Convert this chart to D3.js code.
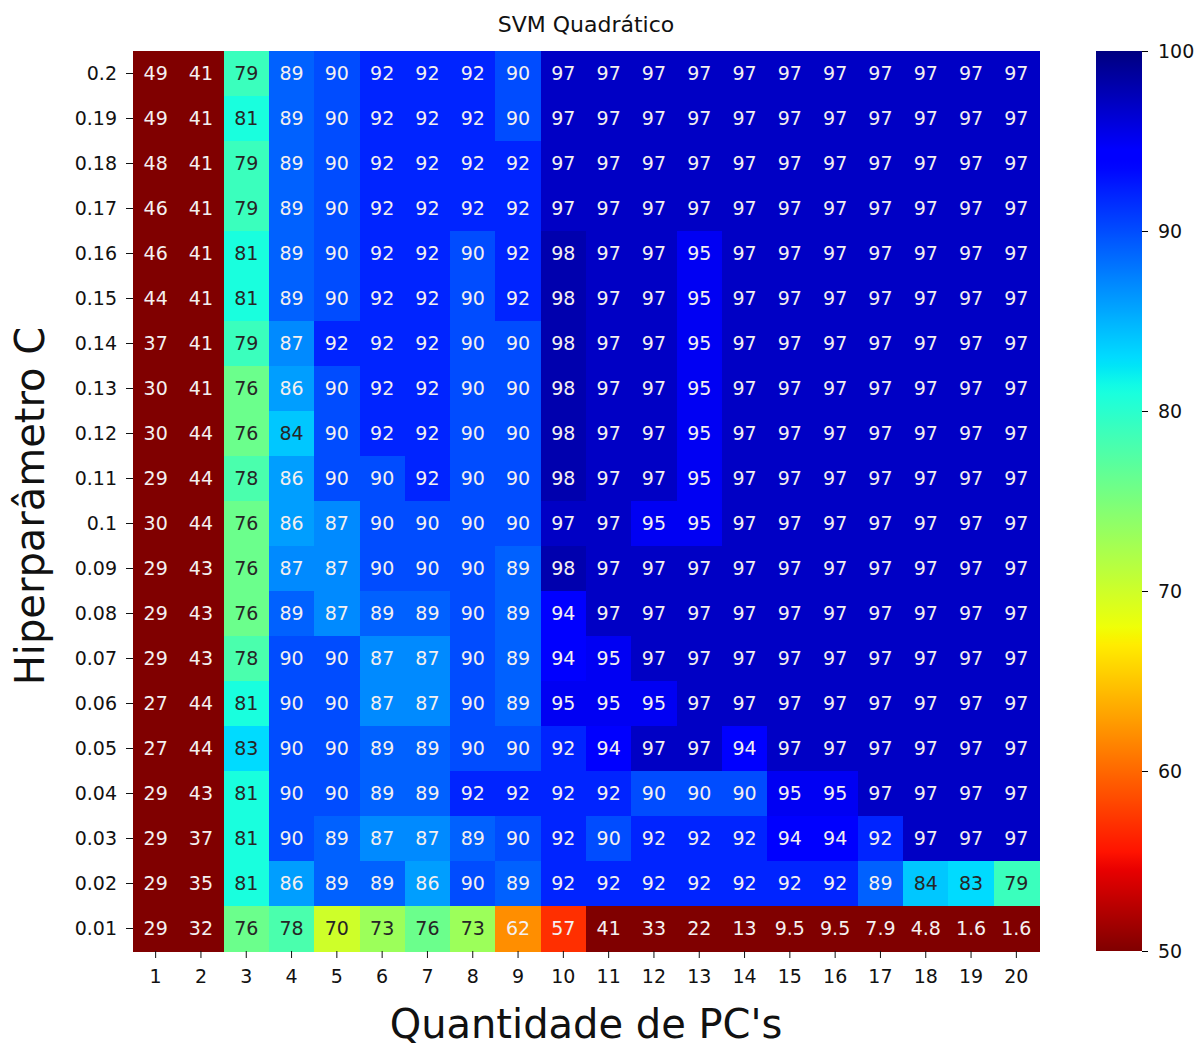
<!DOCTYPE html>
<html>
<head>
<meta charset="utf-8">
<script src="https://cdn.jsdelivr.net/npm/d3@7"></script>
<style>
  body { margin: 0; background: #fff; }
  text { font-family: "DejaVu Sans", sans-serif; }
</style>
</head>
<body>
<script>
const pcs = d3.range(1, 21).map(String)
const cValues = ["0.2", "0.19", "0.18", "0.17", "0.16", "0.15", "0.14", "0.13", "0.12", "0.11",
  "0.1", "0.09", "0.08", "0.07", "0.06", "0.05", "0.04", "0.03", "0.02", "0.01"]
const colorTicks = [50, 60, 70, 80, 90, 100]

// accuracy (%) per row of C, one value per number of PCs
const acc = [
  [49, 41, 79, 89, 90, 92, 92, 92, 90, 97, 97, 97, 97, 97, 97, 97, 97, 97, 97, 97],
  [49, 41, 81, 89, 90, 92, 92, 92, 90, 97, 97, 97, 97, 97, 97, 97, 97, 97, 97, 97],
  [48, 41, 79, 89, 90, 92, 92, 92, 92, 97, 97, 97, 97, 97, 97, 97, 97, 97, 97, 97],
  [46, 41, 79, 89, 90, 92, 92, 92, 92, 97, 97, 97, 97, 97, 97, 97, 97, 97, 97, 97],
  [46, 41, 81, 89, 90, 92, 92, 90, 92, 98, 97, 97, 95, 97, 97, 97, 97, 97, 97, 97],
  [44, 41, 81, 89, 90, 92, 92, 90, 92, 98, 97, 97, 95, 97, 97, 97, 97, 97, 97, 97],
  [37, 41, 79, 87, 92, 92, 92, 90, 90, 98, 97, 97, 95, 97, 97, 97, 97, 97, 97, 97],
  [30, 41, 76, 86, 90, 92, 92, 90, 90, 98, 97, 97, 95, 97, 97, 97, 97, 97, 97, 97],
  [30, 44, 76, 84, 90, 92, 92, 90, 90, 98, 97, 97, 95, 97, 97, 97, 97, 97, 97, 97],
  [29, 44, 78, 86, 90, 90, 92, 90, 90, 98, 97, 97, 95, 97, 97, 97, 97, 97, 97, 97],
  [30, 44, 76, 86, 87, 90, 90, 90, 90, 97, 97, 95, 95, 97, 97, 97, 97, 97, 97, 97],
  [29, 43, 76, 87, 87, 90, 90, 90, 89, 98, 97, 97, 97, 97, 97, 97, 97, 97, 97, 97],
  [29, 43, 76, 89, 87, 89, 89, 90, 89, 94, 97, 97, 97, 97, 97, 97, 97, 97, 97, 97],
  [29, 43, 78, 90, 90, 87, 87, 90, 89, 94, 95, 97, 97, 97, 97, 97, 97, 97, 97, 97],
  [27, 44, 81, 90, 90, 87, 87, 90, 89, 95, 95, 95, 97, 97, 97, 97, 97, 97, 97, 97],
  [27, 44, 83, 90, 90, 89, 89, 90, 90, 92, 94, 97, 97, 94, 97, 97, 97, 97, 97, 97],
  [29, 43, 81, 90, 90, 89, 89, 92, 92, 92, 92, 90, 90, 90, 95, 95, 97, 97, 97, 97],
  [29, 37, 81, 90, 89, 87, 87, 89, 90, 92, 90, 92, 92, 92, 94, 94, 92, 97, 97, 97],
  [29, 35, 81, 86, 89, 89, 86, 90, 89, 92, 92, 92, 92, 92, 92, 92, 89, 84, 83, 79],
  [29, 32, 76, 78, 70, 73, 76, 73, 62, 57, 41, 33, 22, 13, 9.5, 9.5, 7.9, 4.8, 1.6, 1.6]
]

const width = 1204
const height = 1046
const margin = { top: 51, left: 133, right: 1039, bottom: 951 }

// matplotlib "jet" segment data
const jetSeg = {
  r: [[0, 0], [0.35, 0], [0.66, 1], [0.89, 1], [1, 0.5]],
  g: [[0, 0], [0.125, 0], [0.375, 1], [0.64, 1], [0.91, 0], [1, 0]],
  b: [[0, 0.5], [0.11, 1], [0.34, 1], [0.65, 0], [1, 0]]
}
function seg(pts, t) {
  for (let i = 1; i < pts.length; i++) {
    if (t <= pts[i][0]) {
      const [x0, y0] = pts[i - 1], [x1, y1] = pts[i]
      return y0 + (y1 - y0) * (t - x0) / (x1 - x0)
    }
  }
  return pts[pts.length - 1][1]
}
function jet(t) {
  t = Math.max(0, Math.min(1, t))
  return [seg(jetSeg.r, t), seg(jetSeg.g, t), seg(jetSeg.b, t)]
}
// jet_r over 50..100
const norm = d3.scaleLinear().domain([50, 100]).range([1, 0]).clamp(true)
const colorOf = v => {
  const [r, g, b] = jet(norm(v))
  return d3.rgb(r * 255, g * 255, b * 255)
}
function luminance(c) {
  const lin = x => { x /= 255; return x <= 0.03928 ? x / 12.92 : Math.pow((x + 0.055) / 1.055, 2.4) }
  return 0.2126 * lin(c.r) + 0.7152 * lin(c.g) + 0.0722 * lin(c.b)
}

const x = d3.scaleBand().domain(pcs).range([margin.left, margin.right])
const y = d3.scaleBand().domain(cValues).range([margin.top, margin.bottom])

const svg = d3.select("body").append("svg")
  .attr("width", width)
  .attr("height", height)

const cells = []
acc.forEach((row, i) => row.forEach((v, j) => cells.push({ c: cValues[i], pc: pcs[j], v })))

svg.append("g")
  .attr("shape-rendering", "crispEdges")
  .selectAll("rect")
  .data(cells)
  .join("rect")
  .attr("x", d => x(d.pc))
  .attr("y", d => y(d.c))
  .attr("width", x.bandwidth() + 1)
  .attr("height", y.bandwidth() + 1)
  .attr("fill", d => colorOf(d.v))

const fmt = d3.format(".2~g")
svg.append("g")
  .selectAll("text")
  .data(cells)
  .join("text")
  .attr("x", d => x(d.pc) + x.bandwidth() / 2)
  .attr("y", d => y(d.c) + y.bandwidth() / 2)
  .attr("dy", "0.36em")
  .attr("text-anchor", "middle")
  .attr("font-size", 19)
  .attr("fill", d => luminance(colorOf(d.v)) > 0.408 ? "#262626" : "#f4f0f0")
  .text(d => fmt(d.v))

// axes
const yAxis = svg.append("g")
  .attr("transform", `translate(${margin.left},0)`)
  .call(d3.axisLeft(y).tickSize(7).tickPadding(9))
yAxis.select(".domain").remove()

const xAxis = svg.append("g")
  .attr("transform", `translate(0,${margin.bottom})`)
  .call(d3.axisBottom(x).tickSize(7).tickPadding(12))
xAxis.select(".domain").remove()

svg.selectAll(".tick text")
  .attr("font-family", "DejaVu Sans, sans-serif")
  .attr("font-size", 19)
  .attr("fill", "#111")
svg.selectAll(".tick line").attr("stroke", "#111").attr("stroke-width", 1)

// colorbar
const cbX = 1096, cbW = 46
const cbScale = d3.scaleLinear().domain([50, 100]).range([margin.bottom, margin.top])

const grad = svg.append("defs").append("linearGradient")
  .attr("id", "cb")
  .attr("x1", 0).attr("y1", 1).attr("x2", 0).attr("y2", 0)
grad.selectAll("stop")
  .data(d3.range(0, 101))
  .join("stop")
  .attr("offset", d => d / 100)
  .attr("stop-color", d => colorOf(50 + d / 2))

svg.append("rect")
  .attr("x", cbX)
  .attr("y", margin.top)
  .attr("width", cbW)
  .attr("height", margin.bottom - margin.top)
  .attr("fill", "url(#cb)")

const cbAxis = svg.append("g")
  .attr("transform", `translate(${cbX + cbW},0)`)
  .call(d3.axisRight(cbScale).tickValues(colorTicks).tickSize(6).tickPadding(10))
cbAxis.select(".domain").remove()
cbAxis.selectAll("text")
  .attr("font-family", "DejaVu Sans, sans-serif")
  .attr("font-size", 19)
  .attr("fill", "#111")

// titles
svg.append("text")
  .attr("x", (margin.left + margin.right) / 2)
  .attr("y", 32)
  .attr("text-anchor", "middle")
  .attr("font-size", 22)
  .attr("fill", "#111")
  .text("SVM Quadrático")

svg.append("text")
  .attr("x", (margin.left + margin.right) / 2)
  .attr("y", 1038)
  .attr("text-anchor", "middle")
  .attr("font-size", 40)
  .attr("fill", "#111")
  .text("Quantidade de PC's")

svg.append("text")
  .attr("transform", `translate(44,${(margin.top + margin.bottom) / 2 + 5}) rotate(-90)`)
  .attr("text-anchor", "middle")
  .attr("font-size", 40)
  .attr("fill", "#111")
  .text("Hiperparâmetro C")
</script>
</body>
</html>
